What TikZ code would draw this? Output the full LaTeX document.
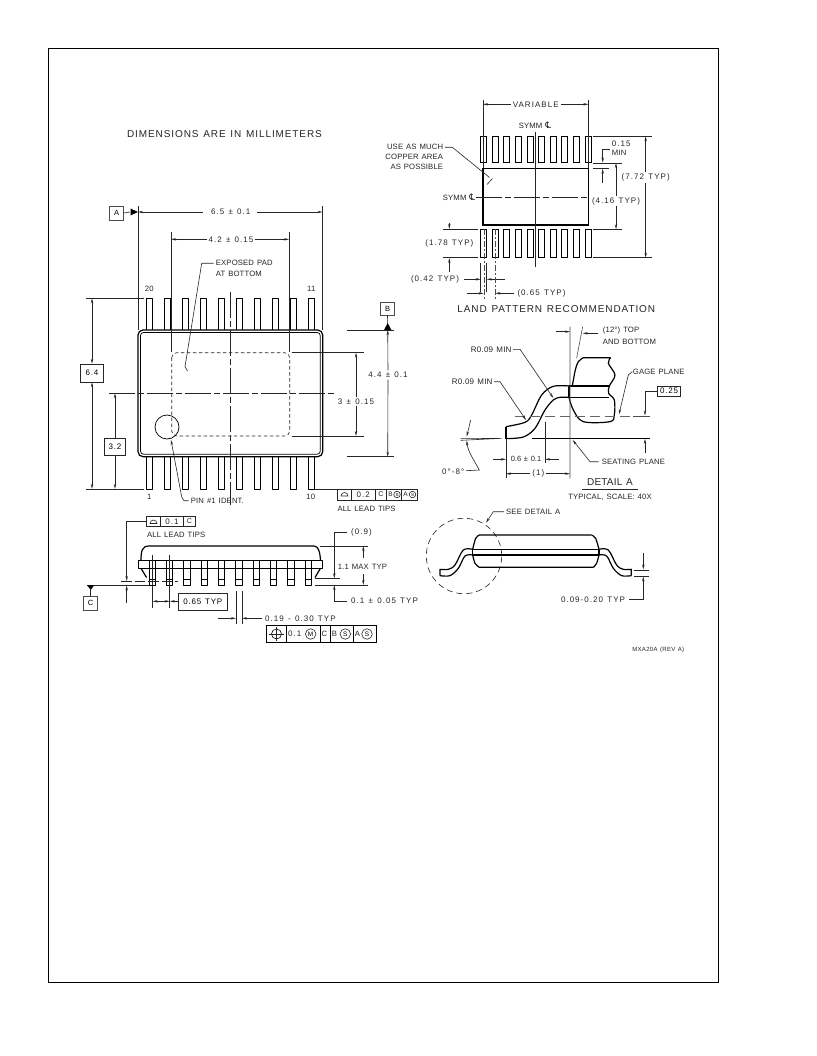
\documentclass[tikz,border=0pt]{standalone}
\usepackage{fontspec}
\setmainfont[LetterSpace=2,WordSpace=1.3]{Liberation Sans}
\newfontfamily\symbfont{DejaVu Sans}
\usetikzlibrary{arrows.meta}
\newcommand{\symmcl}{{\symbfont\fontsize{9}{9}\selectfont ℄}}
\tikzset{
  lbl/.style={font=\fontsize{7.7}{9}\selectfont, inner sep=0pt, text=black!85},
  lblnum/.style={lbl, font=\fontsize{8}{9}\selectfont\addfontfeature{LetterSpace=13}},
  lblbig/.style={font=\fontsize{10}{12}\selectfont\addfontfeature{LetterSpace=9}, inner sep=0pt, text=black!85},
  lbltiny/.style={font=\fontsize{6}{7}\selectfont\addfontfeature{LetterSpace=5}, inner sep=0pt, text=black!85},
  thin line/.style={line width=.6pt, black!85},
  dim/.style={thin line, {Stealth[length=5pt,width=2.4pt]}-{Stealth[length=5pt,width=2.4pt]}},
  tip/.style={thin line, -{Stealth[length=5pt,width=2.4pt]}},
  bodyline/.style={line width=1.2pt, line join=round},
  centerline/.style={thin line, dash pattern=on 26pt off 3pt on 6pt off 3pt},
  datumbox/.style={draw=black!70, line width=.6pt, minimum width=14pt, minimum height=14pt, inner sep=0pt, font=\fontsize{7.5}{9}\selectfont},
  valuebox/.style={draw=black!85, line width=.6pt, inner sep=0pt, font=\fontsize{8}{9}\selectfont\addfontfeature{LetterSpace=10}},
  dtm/.style={fill=black, draw=none},
  whitebg/.style={fill=white, inner xsep=2pt, inner ysep=1.5pt},
  circltr/.style={draw=black!85, circle, line width=.6pt, inner sep=0pt, minimum size=10.5pt, font=\fontsize{6.5}{7}\selectfont},
  circsmall/.style={circltr, minimum size=6.5pt, font=\fontsize{4.5}{5}\selectfont}
}
\begin{document}
\begin{tikzpicture}[x=1pt,y=-1pt]
    \useasboundingbox (0,0) rectangle (816,1056);
    \fill[white] (0,0) rectangle (816,1056);
    \draw[line width=.7pt] (48,48) rectangle (718,982);

    \node[lblbig] (dimnote) at (224.5,134) {DIMENSIONS ARE IN MILLIMETERS};

    \foreach \i in {0,...,9} {
      \pgfmathsetmacro{\xa}{149.3+18*\i}
      \draw[bodyline,line width=1pt] (\xa-3.2,330) -- (\xa-3.2,298.3) -- (\xa+3.2,298.3) -- (\xa+3.2,330);
      \draw[bodyline,line width=1pt] (\xa-3.2,457) -- (\xa-3.2,489) -- (\xa+3.2,489) -- (\xa+3.2,457);
    }
    \draw[bodyline,rounded corners=5pt] (138,330) rectangle (322.7,456.7);
    \draw[line width=.7pt,rounded corners=3pt] (140.5,332.5) rectangle (320.2,454.2);
    \draw[thin line,dash pattern=on 3.5pt off 2.5pt,rounded corners=5pt] (171.7,352.7) rectangle (289.7,436);
    \draw[centerline] (230.7,292) -- (230.7,505);
    \draw[centerline] (109,393.3) -- (335,393.3);
    \node[circle,draw,line width=.7pt,minimum size=24pt,inner sep=0pt] (pinmark) at (167,427) {};

    \node[datumbox] (boxA) at (116.5,213) {A};
    \coordinate (triA) at (130,212);
    \draw[thin line] (boxA.east) -- (triA);
    \fill[dtm] (138,212) -- (130.5,208.5) -- (130.5,215.5) -- cycle;
    \draw[thin line] (138,206) -- (138,330) (322.5,206) -- (322.5,330);
    \node[lblnum] (widthtxt) at (230.7,212) {6.5 ± 0.1};
    \draw[tip] (widthtxt.west)++(-8,0) -- (138,212);
    \draw[tip] (widthtxt.east)++(6,0) -- (322.5,212);

    \draw[thin line] (171,232) -- (171,352) (289,232) -- (289,352);
    \node[lblnum] (padtxt) at (231,239.3) {4.2 ± 0.15};
    \draw[tip] (padtxt.west)++(-1,0) -- (171,239.3);
    \draw[tip] (padtxt.east)++(1,0) -- (289,239.3);

    \node[lbl,anchor=west] (padnote) at (215.7,263.3) {EXPOSED PAD};
    \node[lbl,anchor=west] (padnoteb) at (215.7,274.3) {AT BOTTOM};
    \draw[thin line] (padnote.west)++(-2,0) -- (201.7,263.3) -- (185,366.7) -- (187.5,371);

    \node[lbl] (lead20) at (149.3,289.3) {20};
    \node[lbl] (lead11) at (311.3,289.3) {11};
    \node[lbl] (lead1) at (149.3,497.3) {1};
    \node[lbl] (lead10) at (310.7,497.3) {10};

    \draw[thin line] (86,298.3) -- (144,298.3) (86,488.8) -- (144,488.8);
    \node[valuebox,minimum width=22.5pt,minimum height=18pt] (box64) at (92,373) {6.4};
    \draw[dim] (92,298.3) -- (box64.north);
    \draw[dim] (box64.south) -- (92,488.8);
    \node[valuebox,minimum width=21.5pt,minimum height=17pt] (box32) at (115,446.3) {3.2};
    \draw[tip] (box32.north) -- (115,393.3);
    \draw[tip] (box32.south) -- (115,488.8);

    \node[datumbox,minimum height=12.5pt] (boxB) at (387.5,309) {B};
    \draw[thin line] (boxB.south) -- (387.7,325);
    \fill[dtm] (387.7,323) -- (384,330) -- (391.4,330) -- cycle;
    \draw[thin line] (346.7,330) -- (394,330) (346.7,456.7) -- (394,456.7);
    \node[lblnum,whitebg] (bodytxt) at (388,375) {4.4 ± 0.1};
    \draw[tip] (bodytxt.north) -- (387.7,330);
    \draw[tip] (bodytxt.south) -- (387.7,456.7);
    \draw[thin line] (291.7,352.7) -- (364,352.7) (291.7,436) -- (364,436);
    \node[lblnum,whitebg] (exptxt) at (356,401.7) {3 ± 0.15};
    \draw[tip] (exptxt.north) -- (356,352.7);
    \draw[tip] (exptxt.south) -- (356,436);

    \node[lbl,anchor=west] (pinnote) at (190.7,500.7) {PIN \#1 IDENT.};
    \coordinate (pinbend) at (181.7,497);
    \draw[tip] (pinnote.west)++(-2,0) -- (184,500.7) -- (pinbend) -- (171,440);

    \draw[thin line] (337.3,489) rectangle (417.3,500);
    \foreach \xb in {351.7,375,386.7,401.7} \draw[thin line] (\xb,489) -- (\xb,500);
    \draw[thin line] (315,489) -- (337.3,489);
    \draw[thin line] (341,496) arc (180:0:3.5pt) -- cycle;
    \node[lblnum] (tol02) at (363.3,494.5) {0.2};
    \node[lbl,font=\fontsize{7}{8}\selectfont] (tolC) at (381,494.5) {C};
    \node[lbl,font=\fontsize{6.5}{8}\selectfont] (tolB) at (390.5,494.5) {B};
    \node[circsmall] (tolBs) at (397,494.5) {S};
    \node[lbl,font=\fontsize{6.5}{8}\selectfont] (tolA) at (405.5,494.5) {A};
    \node[circsmall] (tolAs) at (412.5,494.5) {S};
    \node[lbl,anchor=west] (tipnote) at (337.3,509) {ALL LEAD TIPS};

    \draw[bodyline] (141,560.7) .. controls (141,551) and (142,546) .. (149,546) -- (314,546) .. controls (318,546) and (320,551) .. (320.5,560.7);
    \draw[bodyline] (138.3,560.7) rectangle (322.3,568.3);
    \draw[bodyline] (141,568.3) -- (146.5,577.5) (320.5,568.3) -- (315,577.5);
    \foreach \i in {0,...,9} {
      \pgfmathsetmacro{\xc}{152.3+17.33*\i}
      \draw[bodyline,line width=1pt] (\xc-3.2,560.7) -- (\xc-3.2,585) -- (\xc+3.2,585) -- (\xc+3.2,560.7);
      \draw[line width=.8pt] (\xc-3.2,579.3) -- (\xc+3.2,579.3);
    }
    \draw[thin line] (152.5,555) -- (152.5,607.7) (169.7,555) -- (169.7,607.7);
    \draw[thin line,dash pattern=on 11pt off 3pt on 10pt off 3pt] (120.7,581) -- (178,581);
    \draw[thin line] (87.3,585) -- (149,585);
    \fill[dtm] (90.7,590) -- (87,585) -- (94.4,585) -- cycle;
    \node[datumbox] (boxC) at (90.7,603.3) {C};
    \draw[thin line] (boxC.north) -- (90.7,590);

    \draw[thin line] (146.3,516) rectangle (195.7,526.7);
    \foreach \xb in {160.7,183.3} \draw[thin line] (\xb,516) -- (\xb,526.7);
    \draw[thin line] (150,523.5) arc (180:0:3.5pt) -- cycle;
    \node[lblnum] (tol01) at (172,521.3) {0.1};
    \node[lbl,font=\fontsize{7}{8}\selectfont] (tolCb) at (189.5,521.3) {C};
    \coordinate (tipbend) at (126.7,521.3);
    \draw[tip] (146.3,521.3) -- (tipbend) -- (126.7,581);
    \coordinate (tiplow) at (126.7,603.3);
    \draw[tip] (tiplow) -- (126.7,585.5);
    \node[lbl,anchor=west] (tipnoteb) at (147,535.3) {ALL LEAD TIPS};

    \node[valuebox,minimum width=49pt,minimum height=17pt] (box065) at (202.8,601.3) {0.65 TYP};
    \draw[tip] (box065.west) -- (169.7,601.3);
    \draw[tip] (160,601.3) -- (152.5,601.3);
    \draw[tip] (160,601.3) -- (169.7,601.3);

    \draw[thin line] (236,591) -- (236,624.3) (242,591) -- (242,624.3);
    \node[lblnum,anchor=west] (leadwtxt) at (265,619) {0.19 - 0.30 TYP};
    \draw[tip] (218.3,618.3) -- (236,618.3);
    \draw[tip] (leadwtxt.west)++(-3,-.7) -- (242,618.3);

    \draw[line width=.7pt] (266.3,625.3) rectangle (376,642.7);
    \foreach \xb in {286.7,320,330,353.3} \draw[line width=.6pt] (\xb,625.3) -- (\xb,642.7);
    \node[circle,draw,line width=.6pt,minimum size=10pt,inner sep=0pt] (posmark) at (276.5,634) {};
    \draw[thin line] (269,634) -- (284,634) (276.5,627) -- (276.5,641);
    \node[lblnum,anchor=west] (tol01m) at (288,634) {0.1};
    \node[circltr] (circM) at (310.7,634) {M};
    \node[lbl] (tolCc) at (324.5,634) {C};
    \node[lbl] (tolBc) at (334.5,634) {B};
    \node[circltr] (circSb) at (345.3,634) {S};
    \node[lbl] (tolAc) at (357.5,634) {A};
    \node[circltr] (circSa) at (367,634) {S};

    \draw[thin line] (320,546) -- (368.3,546) (315,585) -- (368.3,585) (315,578.3) -- (340,578.3);
    \node[lbl,whitebg,inner xsep=0pt] (maxtxt) at (362.5,566.7) {1.1 MAX TYP};
    \draw[tip] (363.3,558) -- (363.3,546);
    \draw[tip] (363.3,574) -- (363.3,585);
    \node[lblnum,anchor=west] (notch) at (351,532.3) {(0.9)};
    \draw[tip] (notch.west)++(-4,0) -- (334.3,532.3) -- (334.3,578.3);
    \node[lblnum,anchor=west] (standoff) at (351,601) {0.1 ± 0.05 TYP};
    \draw[tip] (standoff.west)++(-4,0) -- (334.3,601) -- (334.3,585);

    \foreach \i in {0,...,9} {
      \pgfmathsetmacro{\xd}{480.7+11.6*\i}
      \draw[line width=1pt] (\xd,136.3) rectangle (\xd+6,163);
      \draw[line width=1pt] (\xd,229.3) rectangle (\xd+6,257.7);
    }
    \draw[line width=1.2pt] (483,168.3) rectangle (588.3,225);
    \draw[thin line] (535.7,131.7) -- (535.7,266.7);
    \draw[centerline] (476,197.3) -- (586.7,197.3);
    \node[lblnum] (varitxt) at (535.7,104.3) {VARIABLE};
    \draw[thin line] (483,100) -- (483,168) (588.3,100) -- (588.3,168);
    \draw[tip] (varitxt.west)++(-2,0) -- (483,104.3);
    \draw[tip] (varitxt.east)++(2,0) -- (588.3,104.3);
    \node[lbl] (symmtop) at (535,125) {SYMM \symmcl};
    \node[lbl,anchor=west] (symmleft) at (442.7,197.3) {SYMM \symmcl};
    \node[lbl,anchor=east] (copper) at (443.3,147.3) {USE AS MUCH};
    \node[lbl,anchor=east] (copperb) at (443.3,157.3) {COPPER AREA};
    \node[lbl,anchor=east] (copperc) at (443.3,167.3) {AS POSSIBLE};
    \draw[thin line] (copper.east)++(1.5,0) -- (452.3,147.3) -- (489.5,177.5);
    \draw[thin line] (492.5,178.5) -- (487,184.5);
    \draw[thin line] (592.7,136.3) -- (651.7,136.3) (592.7,257.7) -- (651.7,257.7);
    \draw[thin line] (592.7,163) -- (621.7,163) (592.7,168.3) -- (609,168.3) (592.7,229.3) -- (621.7,229.3);
    \node[lblnum,whitebg] (totaltxt) at (645.7,177.7) {(7.72 TYP)};
    \draw[tip] (totaltxt.north) -- (645.7,136.3);
    \draw[tip] (totaltxt.south) -- (645.7,257.7);
    \node[lblnum,whitebg] (spantxt) at (616,201) {(4.16 TYP)};
    \draw[tip] (spantxt.north) -- (616,163);
    \draw[tip] (spantxt.south) -- (616,229.3);
    \node[lblnum,anchor=west] (mintxt) at (611.7,143.3) {0.15};
    \node[lbl,anchor=west] (mintxtb) at (611.7,153.3) {MIN};
    \draw[tip] (610,149.3) -- (602.7,149.3) -- (602.7,162.5);
    \coordinate (minlow) at (602.7,183.3);
    \draw[tip] (minlow) -- (602.7,168.8);
    \draw[thin line] (443.3,229.3) -- (478.3,229.3) (443.3,257.7) -- (478.3,257.7);
    \node[lblnum] (padlen) at (449.3,243) {(1.78 TYP)};
    \coordinate (padlena) at (449.3,222.7);
    \coordinate (padlenb) at (449.3,271.7);
    \draw[tip] (padlena) -- (449.3,229);
    \draw[tip] (padlenb) -- (449.3,258);
    \draw[thin line] (480.7,263) -- (480.7,292) (486.7,263) -- (486.7,292);
    \node[lblnum] (padwtxt) at (435,279.3) {(0.42 TYP)};
    \draw[tip] (padwtxt.east)++(5,0) -- (480.7,279.3);
    \draw[tip] (505,279.3) -- (486.7,279.3);
    \draw[line width=.4pt,black!70,dash pattern=on 6pt off 2pt on 2pt off 2pt] (483.7,229.3) -- (483.7,300) (495.3,229.3) -- (495.3,300);
    \node[lblnum,anchor=west] (pitchtxt) at (517.3,293.3) {(0.65 TYP)};
    \draw[tip] (466.7,293.3) -- (483.7,293.3);
    \draw[tip] (pitchtxt.west)++(-3,0) -- (495.3,293.3);
    \node[lblbig] (landtitle) at (556.3,309.3) {LAND PATTERN RECOMMENDATION};

    \begin{scope}[xshift=420pt,yshift=-315pt,x=.3333pt,y=-.3333pt]
      \draw[bodyline] (258,335) -- (258,371);
      \draw[bodyline] plot[smooth,tension=.55] coordinates {(258,335) (315,322) (335,300) (365,240) (400,214) (447,213)};
      \draw[bodyline] plot[smooth,tension=.55] coordinates {(258,371) (310,366) (345,340) (375,285) (400,255) (420,247) (447,247)};
      \draw[bodyline] (447,213) -- (568,213) (447,247) -- (568,247) (447,213) -- (447,247);
      \draw[bodyline] plot[smooth,tension=.55] coordinates {(457,213) (466,165) (475,140) (490,128)} -- (572,128);
      \draw[bodyline] plot[smooth,tension=.55] coordinates {(447,247) (460,285) (490,320) (570,320) (583,300) (583,255) (566,235) (568,213) (585,180) (565,145) (572,128)};
      \draw[line width=.6pt,black!60,dash pattern=on 10pt off 5pt] (285,303) -- (640,303);
      \draw[line width=.7pt,black!70] (640,303) -- (690,303);
      \draw[line width=.7pt] (335,370) -- (690,370);
      \draw[thin line] (122,370) -- (245,370) (122,376) -- (245,370);
      \draw[line width=.6pt,black!70] (450,35) -- (450,490) (488,35) -- (470,130);
      \draw[thin line] (258,372) -- (258,490) (375,320) -- (375,445);
    \end{scope}

    \draw[tip] (556,331.7) -- (570,331.7);
    \draw[tip] (598,333.3) -- (582.7,333.3);
    \node[lbl,anchor=west] (anglenote) at (602.7,330.7) {(12°) TOP};
    \node[lbl,anchor=west] (anglenoteb) at (602.7,341.7) {AND BOTTOM};
    \node[lbl,anchor=east,font=\fontsize{8}{9}\selectfont\addfontfeature{LetterSpace=3}] (radtop) at (511.7,349.3) {R0.09 MIN};
    \draw[tip] (radtop.east)++(1.5,0) -- (520,349.3) -- (553.3,398);
    \node[lbl,anchor=east,font=\fontsize{8}{9}\selectfont\addfontfeature{LetterSpace=3}] (radlow) at (492.7,381.7) {R0.09 MIN};
    \draw[tip] (radlow.east)++(1.5,0) -- (500,381.7) -- (526,420);
    \node[lbl,anchor=west] (gagetxt) at (632.7,371.7) {GAGE PLANE};
    \draw[tip] (gagetxt.west)++(-.5,0) -- (628.3,375) -- (619,414.3);
    \node[valuebox,line width=.8pt,minimum width=23.5pt,minimum height=9.7pt] (box025) at (669,391.2) {0.25};
    \draw[tip] (box025.west) -- (645,391.2) -- (645,415.5);
    \coordinate (gagelow) at (645,453.3);
    \draw[tip] (gagelow) -- (645,438.8);
    \node[lbl,anchor=west] (seatingtxt) at (601.7,461.7) {SEATING PLANE};
    \draw[tip] (seatingtxt.west)++(-3,0) -- (590,461.7) -- (572.7,440);
    \node[lbl,font=\fontsize{7.5}{9}\selectfont\addfontfeature{LetterSpace=0}] (filltxt) at (526,459.3) {0.6 ± 0.1};
    \draw[tip] (492.7,459.3) -- (506,459.3);
    \draw[tip] (559.3,459.3) -- (545,459.3);
    \node[lblnum] (onetxt) at (538.3,473.7) {(1)};
    \draw[tip] (onetxt.west)++(-2,0) -- (506,473.7);
    \draw[tip] (onetxt.east)++(2,0) -- (570,473.7);
    \node[lblnum] (zeroeight) at (453.3,471.7) {0°-8°};
    \draw[tip] (zeroeight.east)++(1.5,-1) -- (479.3,470) .. controls (474,460) and (468,452) .. (466.7,440.5);
    \coordinate (wedgetop) at (470.7,420);
    \draw[tip] (wedgetop) -- (466.7,436.5);
    \node[lblbig,font=\fontsize{10}{12}\selectfont] (detailtxt) at (610,482.3) {DETAIL A};
    \draw[thin line] (581.7,489) -- (638.3,489);
    \node[lbl] (detailnote) at (610,497.7) {TYPICAL, SCALE: 40X};

    \node[lbl,anchor=west] (seenote) at (506,511.7) {SEE DETAIL A};
    \draw[tip] (seenote.west)++(-2,0) -- (493.3,511.7) -- (486,522.7);
    \node[circle,draw,thin line,dash pattern=on 6pt off 4pt,minimum size=75.4pt,inner sep=0pt] (detailring) at (464,556) {};

    \begin{scope}[xshift=410pt,yshift=-500pt,x=.3333pt,y=-.3333pt]
      \draw[bodyline] plot[smooth,tension=.5] coordinates {(188,148) (197,115) (208,105)} -- (545,105);
      \draw[bodyline] plot[smooth,tension=.5] coordinates {(545,105) (557,115) (567,148)};
      \draw[bodyline] plot[smooth,tension=.5] coordinates {(188,165) (195,190) (208,202)} -- (550,202);
      \draw[bodyline] plot[smooth,tension=.5] coordinates {(550,202) (560,190) (567,165)};
      \draw[bodyline] (188,148) -- (567,148) (188,165) -- (567,165) (188,148) -- (188,165) (567,148) -- (567,165);
      \draw[bodyline] plot[smooth,tension=.55] coordinates {(188,148) (160,150) (135,195) (115,208) (90,208)} -- (90,227);
      \draw[bodyline] plot[smooth,tension=.55] coordinates {(188,165) (165,168) (145,205) (120,227) (90,227)};
      \draw[bodyline] plot[smooth,tension=.55] coordinates {(567,148) (595,150) (620,195) (640,208) (664,208)} -- (664,227);
      \draw[bodyline] plot[smooth,tension=.55] coordinates {(567,165) (590,168) (610,205) (635,227) (664,227)};
      \draw[thin line] (672,210) -- (716,210) (672,228) -- (716,228);
    \end{scope}
    \coordinate (thickup) at (643.3,553.3);
    \draw[tip] (thickup) -- (643.3,569.5);
    \node[lblnum] (thicktxt) at (593,599.3) {0.09-0.20 TYP};
    \draw[tip] (thicktxt.east)++(4,0) -- (643.3,599.3) -- (643.3,576.5);
    \node[lbltiny] (revtxt) at (658.3,649.7) {MXA20A (REV A)};
\end{tikzpicture}
\end{document}
